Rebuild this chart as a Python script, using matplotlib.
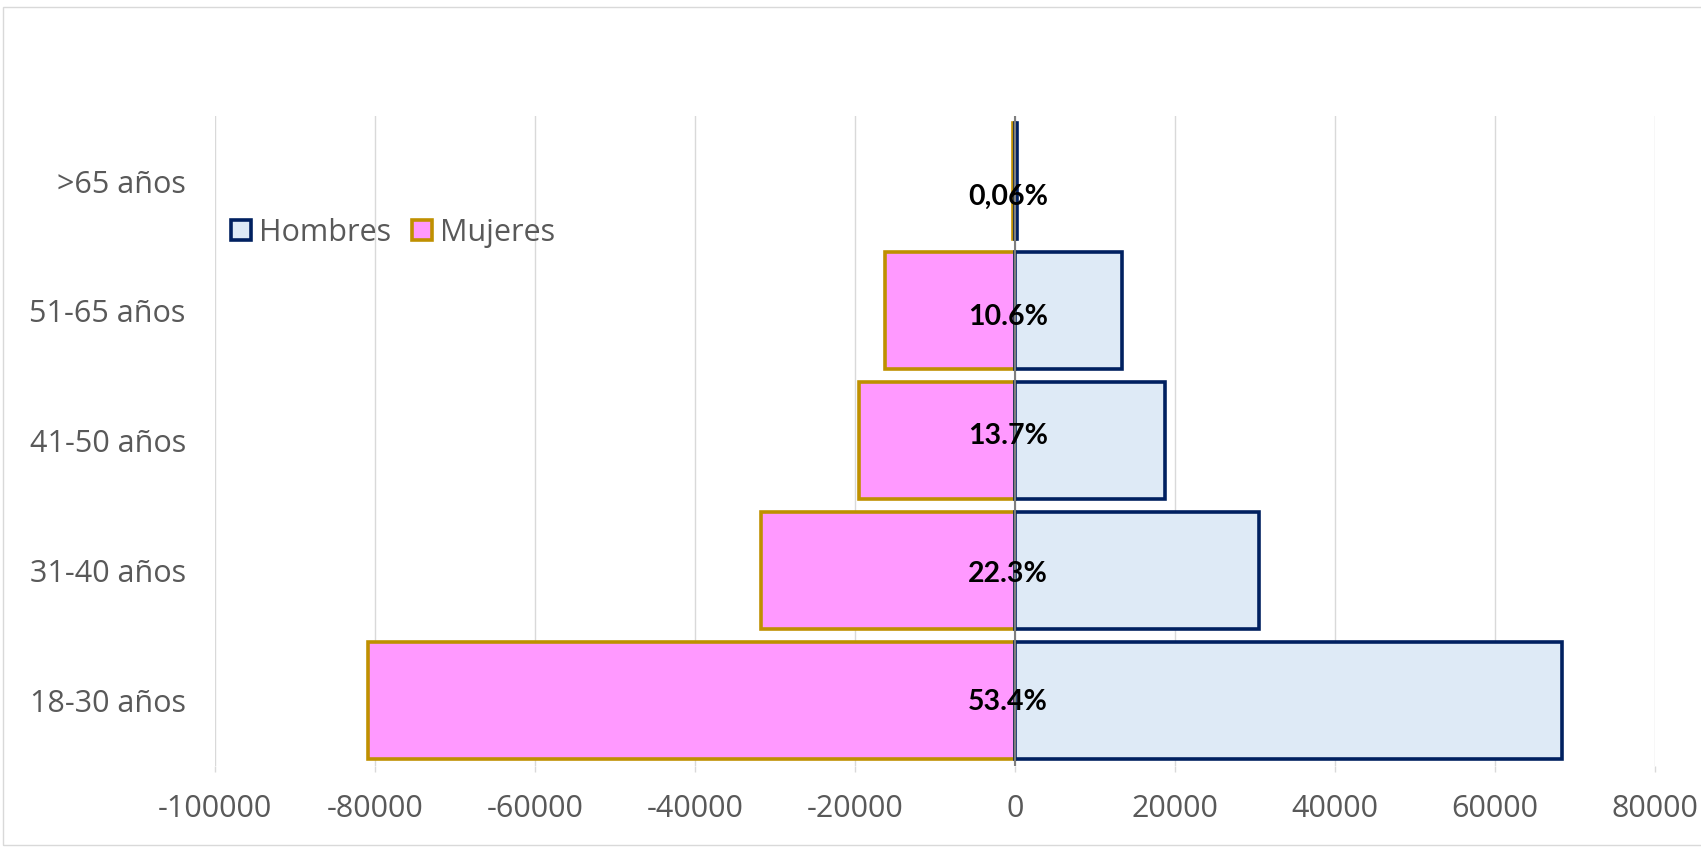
import matplotlib
matplotlib.use("Agg")
import matplotlib.pyplot as plt
from matplotlib.patches import Patch, Rectangle

# data
categories = ["18-30 años", "31-40 años", "41-50 años", "51-65 años", ">65 años"]
hombres = [68400, 30450, 18770, 13370, 250]
mujeres = [-80850, -31800, -19500, -16200, -250]
porcentajes = ["53.4%", "22.3%", "13.7%", "10.6%", "0,06%"]
label_shift = [-0.01, -0.025, 0.04, -0.05, -0.12]  # label drift seen in the picture
xticks = [-100000, -80000, -60000, -40000, -20000, 0, 20000, 40000, 60000, 80000]

font = "Open Sans"
gray = "#595959"

fig = plt.figure(figsize=(17.01, 8.47), dpi=100)
ax = fig.add_axes([0.1264, 0.096, 0.8466, 0.767])

y = list(range(len(categories)))
ax.barh(y, mujeres, height=0.9, color="#FF99FF", edgecolor="#BF9000",
        linewidth=2.6, label="Mujeres", zorder=3)
ax.barh(y, hombres, height=0.9, color="#DEEAF6", edgecolor="#002060",
        linewidth=2.6, label="Hombres", zorder=3)
ax.axvline(0, color="#7f7f7f", lw=1.5, zorder=4)

for yi, txt, d in zip(y, porcentajes, label_shift):
    ax.text(-900, yi + d, txt, ha="center", va="center", fontsize=20.5,
            fontweight="bold", family="Lato", color="black", zorder=5)

ax.set_xlim(-100000, 80000)
ax.set_ylim(-0.5, 4.5)
ax.set_xticks(xticks)
ax.set_xticklabels([str(v) for v in xticks], family=font, fontsize=22, color=gray)
ax.set_yticks(y)
ax.set_yticklabels(categories, family=font, fontsize=22, color=gray)
ax.tick_params(axis="x", length=4.5, color="#d9d9d9", width=1, pad=16)
ax.tick_params(axis="y", length=0, pad=21)
ax.grid(axis="x", color="#d9d9d9", lw=1, zorder=0)
for s in ax.spines.values():
    s.set_visible(False)

handles = [Patch(facecolor="#DEEAF6", edgecolor="#002060", linewidth=2.6, label="Hombres"),
           Patch(facecolor="#FF99FF", edgecolor="#BF9000", linewidth=2.6, label="Mujeres")]
fig.legend(handles=handles, loc="center left", bbox_to_anchor=(231 / 1701, 1 - 233 / 847),
           frameon=False, prop={"family": font, "size": 22}, handlelength=0.65,
           handleheight=0.65, handletextpad=0.25, columnspacing=0.7, ncol=2,
           borderpad=0, borderaxespad=0, labelcolor=gray)

fig.patches.append(Rectangle((3 / 1701, 0.002), 1.0, 1 - 7 / 847 - 0.002,
                             transform=fig.transFigure, fill=False,
                             edgecolor="#d9d9d9", lw=1))

fig.savefig("out.png", dpi=100)
